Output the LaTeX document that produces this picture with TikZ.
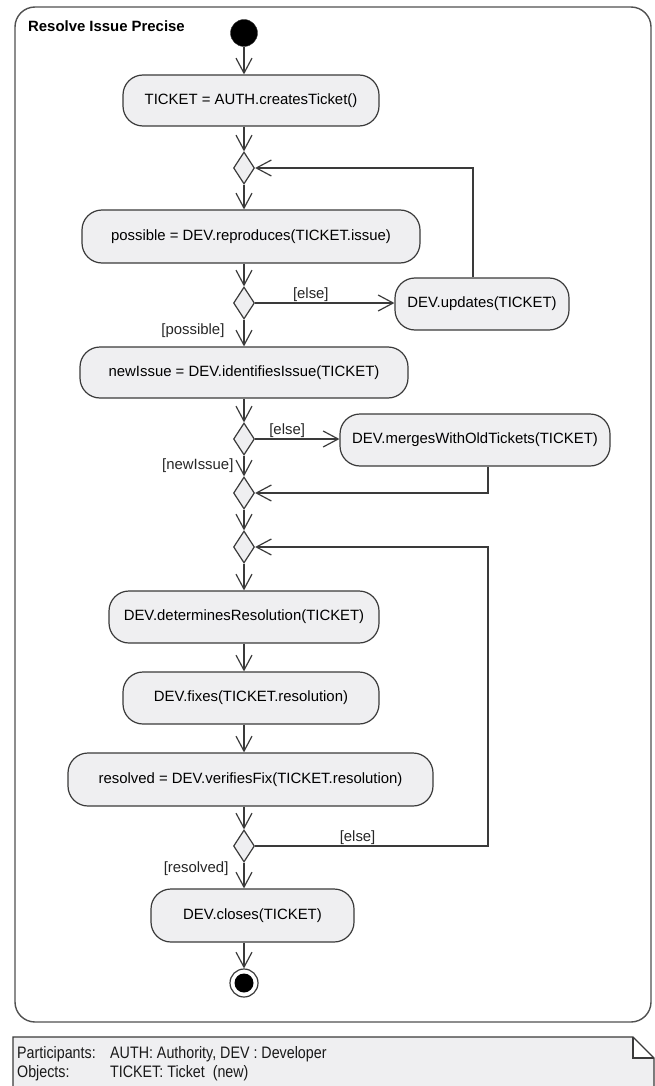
\documentclass[tikz,border=0pt]{standalone}
\usepackage{fontspec}
\setmainfont{Liberation Sans}
\newfontfamily\notefont[FakeStretch=0.86]{Liberation Sans}
\usepackage{tikz}
\usetikzlibrary{arrows.meta,shapes.geometric,calc}
\definecolor{linegray}{HTML}{3A3A3A}
\definecolor{boxgray}{HTML}{EFEFF1}
\definecolor{framegray}{HTML}{505050}
\newcommand{\actfont}{\fontsize{14.9}{17}\selectfont}
\newcommand{\notetext}{\notefont\fontsize{16.6}{18}\selectfont}
\tikzset{
	actbox/.style={draw=linegray, fill=boxgray, rounded corners=20pt, line width=1.2pt, inner sep=0pt, font=\actfont},
	branch/.style={diamond, draw=linegray, fill=boxgray, line width=1.2pt, minimum width=21pt, minimum height=32pt, inner sep=0pt},
	flow/.style={draw=linegray, line width=1.2pt, -{Straight Barb[length=15pt,width=16pt]}},
	guard/.style={font=\actfont, inner sep=1pt, text=black!85},
	notetxt/.style={anchor=base west, inner sep=0pt, font=\notetext, text=black!90},
}

\begin{document}
\begin{tikzpicture}[x=1pt,y=-1pt]
		%%%%% START %%%%%
		\useasboundingbox (0,0) rectangle (655,1086);
		
		\draw[framegray, line width=1.4pt, rounded corners=20pt] (15,7) rectangle (651,1022);
		\node[anchor=base west, inner sep=0pt, font=\actfont\bfseries] (title) at (28,32) {Resolve Issue Precise};
		
		\node[circle, fill=black, draw=linegray, minimum size=27pt, inner sep=0pt] (start) at (244,33) {};
		\node[actbox, minimum width=256pt, minimum height=51pt] (create) at (251,100.5) {TICKET = AUTH.createsTicket()};
		\node[branch] (d1) at (244,168) {};
		\node[actbox, minimum width=338pt, minimum height=53pt] (repro) at (251,236.5) {possible = DEV.reproduces(TICKET.issue)};
		\node[branch] (d2) at (244,303) {};
		\node[actbox, minimum width=174pt, minimum height=52pt] (upd) at (482,304) {DEV.updates(TICKET)};
		\node[actbox, minimum width=328pt, minimum height=51pt] (ident) at (244,372.5) {newIssue = DEV.identifiesIssue(TICKET)};
		\node[branch] (d3) at (244,439) {};
		\node[actbox, minimum width=270pt, minimum height=52pt] (merge) at (475,440) {DEV.mergesWithOldTickets(TICKET)};
		\node[branch] (d4) at (244,493) {};
		\node[branch] (d5) at (244,547) {};
		\node[actbox, minimum width=270pt, minimum height=52pt] (determ) at (244,617) {DEV.determinesResolution(TICKET)};
		\node[actbox, minimum width=256pt, minimum height=52pt] (fix) at (251,698) {DEV.fixes(TICKET.resolution)};
		\node[actbox, minimum width=365pt, minimum height=53pt] (verify) at (250.5,779.5) {resolved = DEV.verifiesFix(TICKET.resolution)};
		\node[branch] (d6) at (244,846) {};
		\node[actbox, minimum width=203pt, minimum height=53pt] (close) at (252.5,915.5) {DEV.closes(TICKET)};
		\node[circle, draw=linegray, line width=1.2pt, minimum size=28pt, inner sep=0pt,
			path picture={\fill[black] (path picture bounding box.center) circle (9.5pt);}] (stop) at (244,983) {};
		
		% main flow
		\draw[flow] (start.south) -- (start.south |- create.north);
		\draw[flow] (create.south -| d1) -- (d1.north);
		\draw[flow] (d1.south) -- (d1.south |- repro.north);
		\draw[flow] (repro.south -| d2) -- (d2.north);
		\draw[flow] (d2.east) -- node[guard, above, pos=0.4] {[else]} (d2.east -| upd.west);
		\draw[flow] ([xshift=-9pt]upd.north) |- (d1.east);
		\draw[flow] (d2.south) -- node[guard, left=18pt, pos=0.4] {[possible]} (d2.south |- ident.north);
		\draw[flow] (ident.south) -- (d3.north);
		\draw[flow] (d3.east) -- node[guard, above, pos=0.38] {[else]} (d3.east -| merge.west);
		\draw[flow] (d3.south) -- node[guard, left=9pt] {[newIssue]} (d4.north);
		\draw[flow] ([xshift=13pt]merge.south) |- (d4.east);
		\draw[flow] (d4.south) -- (d5.north);
		\draw[flow] (d5.south) -- (determ.north);
		\draw[flow] (determ.south) -- (determ.south |- fix.north);
		\draw[flow] (fix.south -| d5) -- (verify.north -| d5);
		\draw[flow] (verify.south -| d6) -- (d6.north);
		\coordinate (back) at (488,846);
		\draw[flow] (d6.east) -- node[guard, above, pos=0.44] {[else]} (back) |- (d5.east);
		\draw[flow] (d6.south) -- node[guard, left=14pt, pos=0.25] {[resolved]} (d6.south |- close.north);
		\draw[flow] (close.south -| stop) -- (stop.north);
		
		% note
		\fill[boxgray] (13,1037) -- (633,1037) -- (654,1058) -- (654,1086) -- (13,1086) -- cycle;
		\fill[white] (633,1037) -- (633,1058) -- (654,1058) -- cycle;
		\draw[linegray, line width=1.2pt] (13,1086) -- (13,1037) -- (633,1037) -- (654,1058) -- (654,1086);
		\draw[linegray, line width=1.2pt] (633,1037) |- (654,1058);
		\node[notetxt] (partlbl) at (17,1058) {Participants:};
		\node[notetxt] (partval) at (110,1058) {AUTH: Authority, DEV : Developer};
		\node[notetxt] (objlbl) at (17,1077) {Objects:};
		\node[notetxt] (objval) at (110,1077) {TICKET: Ticket~~(new)};
		
		%%%%% END %%%%%
\end{tikzpicture}
\end{document}
